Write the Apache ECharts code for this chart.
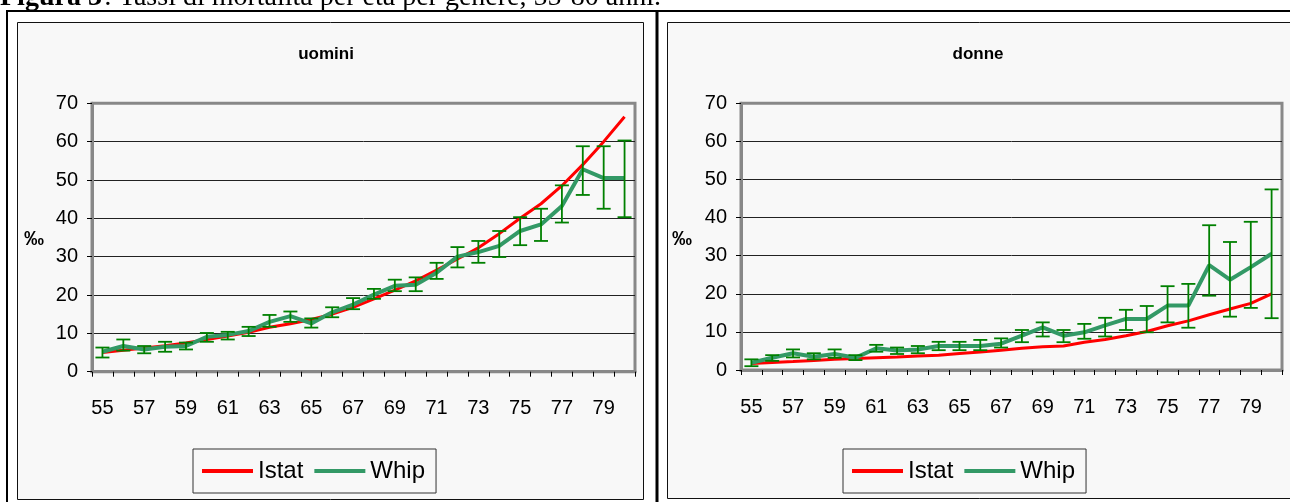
<!DOCTYPE html>
<html>
<head>
<meta charset="utf-8">
<script src="https://cdn.jsdelivr.net/npm/echarts@6/dist/echarts.min.js"></script>
<style>
  html, body { margin: 0; padding: 0; background: #ffffff; }
  #chart { width: 1290px; height: 502px; }
</style>
</head>
<body>
<div id="chart"></div>
<script>
// ---- data ----
const ages = ['55','56','57','58','59','60','61','62','63','64','65','66','67','68','69','70','71','72','73','74','75','76','77','78','79','80'];
const yTicks = [0, 10, 20, 30, 40, 50, 60, 70];

const uominiIstat = [5.0, 5.6, 6.2, 6.8, 7.5, 8.4, 9.3, 10.3, 11.6, 12.5, 13.6, 15.0, 16.8, 19.0, 21.3, 23.7, 26.5, 29.4, 32.3, 36.0, 40.0, 43.8, 48.5, 54.0, 60.0, 66.5];
const uominiWhip  = [5.2, 6.7, 5.8, 6.5, 6.7, 9.1, 9.6, 10.6, 13.0, 14.5, 12.6, 15.5, 17.5, 20.1, 22.4, 22.7, 25.8, 30.0, 31.2, 32.8, 36.7, 38.4, 43.2, 52.8, 50.5, 50.5];
const uominiLow   = [3.7, 5.5, 4.8, 5.2, 5.8, 7.8, 8.4, 9.3, 11.7, 13.0, 11.5, 14.2, 16.3, 19.0, 21.0, 21.0, 24.2, 27.2, 28.4, 29.9, 33.0, 34.1, 38.9, 46.1, 42.5, 40.3];
const uominiHigh  = [6.3, 8.4, 6.7, 7.8, 7.6, 10.1, 10.4, 11.7, 14.8, 15.7, 13.9, 16.8, 19.2, 21.6, 24.0, 24.6, 28.4, 32.5, 34.1, 36.7, 40.3, 42.5, 48.6, 58.8, 58.8, 60.3];

const donneIstat = [1.7, 2.0, 2.2, 2.5, 2.8, 3.0, 3.2, 3.4, 3.7, 3.9, 4.3, 4.7, 5.2, 5.7, 6.1, 6.3, 7.3, 8.0, 9.0, 10.1, 11.6, 12.9, 14.5, 16.0, 17.5, 20.0];
const donneWhip  = [1.9, 3.2, 4.4, 3.5, 4.2, 3.2, 5.7, 5.1, 5.4, 6.3, 6.3, 6.3, 6.9, 9.0, 11.2, 9.0, 9.9, 11.7, 13.4, 13.4, 16.9, 16.9, 27.5, 23.7, 27.0, 30.5];
const donneLow   = [1.0, 2.4, 3.3, 2.8, 3.2, 2.6, 4.8, 4.2, 4.4, 5.2, 5.2, 5.2, 5.9, 7.3, 8.8, 7.3, 8.2, 8.8, 10.5, 9.9, 12.5, 11.1, 19.5, 14.0, 16.3, 13.6];
const donneHigh  = [2.8, 3.9, 5.4, 4.4, 5.4, 3.9, 6.6, 5.9, 6.3, 7.4, 7.4, 7.9, 8.3, 10.5, 12.5, 10.5, 12.1, 13.7, 15.8, 16.8, 22.0, 22.6, 38.0, 33.6, 38.9, 47.4];

const seriesNames = ['Istat', 'Whip'];
const panelTitles = ['uomini', 'donne'];
const unitLabel = '‰';
const captionBold = 'Figura 3';
const captionRest = ': Tassi di mortalità per età per genere, 55-80 anni.';

// ---- styling ----
const SANS = '"Liberation Sans", Arial, sans-serif';
const SERIF = '"Liberation Serif", "Times New Roman", serif';
const RED = '#ff0000';
const GREEN = '#339966';
const ERR = '#008000';
const BG = '#f8f8f8';

function errData(low, high) {
  return ages.map((a, i) => [i, low[i], high[i]]);
}

function errRender(params, api) {
  const lo = api.coord([api.value(0), api.value(1)]);
  const hi = api.coord([api.value(0), api.value(2)]);
  const half = 7;
  const st = { stroke: ERR, lineWidth: 1.8 };
  return {
    type: 'group',
    children: [
      { type: 'line', shape: { x1: lo[0], y1: lo[1], x2: hi[0], y2: hi[1] }, style: st },
      { type: 'line', shape: { x1: lo[0] - half, y1: lo[1], x2: lo[0] + half, y2: lo[1] }, style: st },
      { type: 'line', shape: { x1: hi[0] - half, y1: hi[1], x2: hi[0] + half, y2: hi[1] }, style: st }
    ]
  };
}

const grids = [
  { left: 92, top: 103.3, width: 543, height: 268.4 },
  { left: 741, top: 103.3, width: 541, height: 266.7 }
];

function xAxis(gi) {
  return {
    type: 'category', gridIndex: gi, data: ages, boundaryGap: true,
    axisLine: { lineStyle: { color: '#888', width: 3 } },
    axisTick: { show: true, interval: 0, length: 5, lineStyle: { color: '#000', width: 1 } },
    axisLabel: { interval: 1, margin: 27, fontSize: 20, color: '#000', fontFamily: SANS },
    splitLine: { show: false }
  };
}
function yAxis(gi) {
  return {
    type: 'value', gridIndex: gi, min: yTicks[0], max: yTicks[yTicks.length - 1], interval: 10,
    axisLine: { show: true, lineStyle: { color: '#888', width: 3 } },
    axisTick: { show: true, length: 5, lineStyle: { color: '#000', width: 1 } },
    axisLabel: { margin: 14, fontSize: 20, color: '#000', fontFamily: SANS },
    splitLine: { show: true, showMinLine: false, showMaxLine: false, lineStyle: { color: '#222', width: 1 } }
  };
}

function lineSeries(name, data, gi, color, width) {
  return {
    name, type: 'line', xAxisIndex: gi, yAxisIndex: gi, data,
    showSymbol: false, symbol: 'none', color,
    lineStyle: { color, width }, z: 3, animation: false
  };
}

const chart = echarts.init(document.getElementById('chart'), null, { renderer: 'canvas' });

const titleStyle = { fontSize: 17, fontWeight: 'bold', fontFamily: SANS, color: '#000' };

const option = {
  animation: false,
  backgroundColor: '#ffffff',
  grid: grids.map(g => Object.assign({ show: true, backgroundColor: BG, borderColor: '#888', borderWidth: 3, outerBoundsMode: 'none', containLabel: false }, g)),
  xAxis: [xAxis(0), xAxis(1)],
  yAxis: [yAxis(0), yAxis(1)],
  title: [
    { text: panelTitles[0], left: 326, top: 46, textAlign: 'center', padding: 0, textStyle: titleStyle },
    { text: panelTitles[1], left: 978, top: 46, textAlign: 'center', padding: 0, textStyle: titleStyle }
  ],
  legend: [
    { left: 193, top: 449, orient: 'horizontal', data: seriesNames, icon: 'rect', itemWidth: 51, itemHeight: 4, itemGap: 11,
      padding: [10, 11, 10, 9], borderColor: '#333', borderWidth: 1, backgroundColor: BG,
      textStyle: { fontSize: 24, color: '#000', fontFamily: SANS }, selectedMode: false },
    { left: 843, top: 449, orient: 'horizontal', data: seriesNames, icon: 'rect', itemWidth: 51, itemHeight: 4, itemGap: 11,
      padding: [10, 11, 10, 9], borderColor: '#333', borderWidth: 1, backgroundColor: BG,
      textStyle: { fontSize: 24, color: '#000', fontFamily: SANS }, selectedMode: false }
  ],
  graphic: [
    // table borders
    { type: 'rect', z: -100, shape: { x: 6, y: 10, width: 2, height: 500 }, style: { fill: '#000' } },
    { type: 'rect', z: -100, shape: { x: 6, y: 10, width: 1300, height: 2 }, style: { fill: '#000' } },
    { type: 'rect', z: -100, shape: { x: 655.5, y: 10, width: 3, height: 500 }, style: { fill: '#000' } },
    // chart frames
    { type: 'rect', z: -90, shape: { x: 17.5, y: 22.5, width: 626, height: 477 }, style: { fill: BG, stroke: '#111', lineWidth: 1 } },
    { type: 'rect', z: -90, shape: { x: 667.5, y: 22.5, width: 640, height: 476 }, style: { fill: BG, stroke: '#111', lineWidth: 1 } },
    // unit labels
    { type: 'text', z: 100, x: 34, y: 239, style: { text: unitLabel, font: 'bold 20px ' + SANS, fill: '#000', align: 'center', verticalAlign: 'middle' } },
    { type: 'text', z: 100, x: 682, y: 239, style: { text: unitLabel, font: 'bold 20px ' + SANS, fill: '#000', align: 'center', verticalAlign: 'middle' } },
    // caption
    { type: 'text', z: 100, x: 0, y: -2, style: { text: captionBold, font: 'bold 28px ' + SERIF, fill: '#000', align: 'left', verticalAlign: 'middle' } },
    { type: 'text', z: 100, x: 104, y: -2, style: { text: captionRest, font: '28px ' + SERIF, fill: '#000', align: 'left', verticalAlign: 'middle' } }
  ],
  series: [
    lineSeries(seriesNames[0], uominiIstat, 0, RED, 3),
    lineSeries(seriesNames[1], uominiWhip, 0, GREEN, 4),
    { type: 'custom', xAxisIndex: 0, yAxisIndex: 0, renderItem: errRender, data: errData(uominiLow, uominiHigh), encode: { x: 0, y: [1, 2] }, z: 4, silent: true },
    lineSeries(seriesNames[0], donneIstat, 1, RED, 3),
    lineSeries(seriesNames[1], donneWhip, 1, GREEN, 4),
    { type: 'custom', xAxisIndex: 1, yAxisIndex: 1, renderItem: errRender, data: errData(donneLow, donneHigh), encode: { x: 0, y: [1, 2] }, z: 4, silent: true }
  ]
};
chart.setOption(option);
</script>
</body>
</html>
